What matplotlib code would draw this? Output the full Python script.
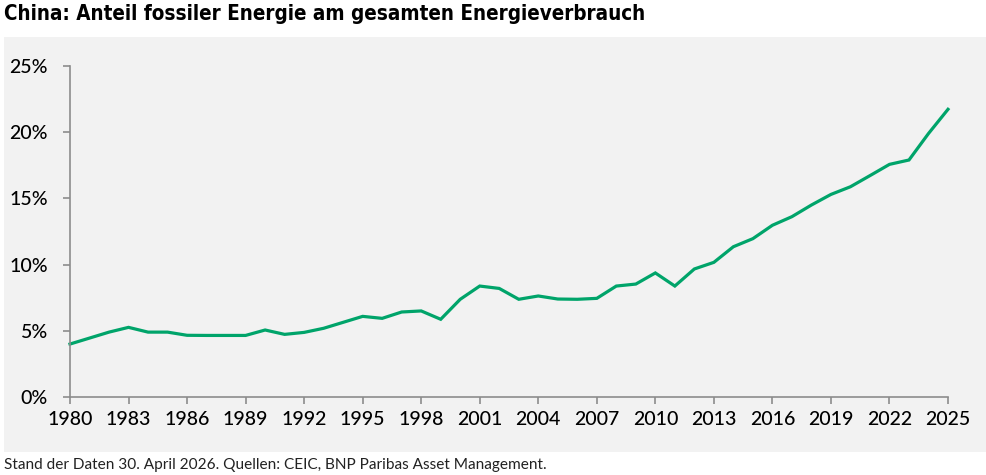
import matplotlib
matplotlib.use("Agg")
import matplotlib.pyplot as plt
from matplotlib.patches import Rectangle
from matplotlib.ticker import FuncFormatter, MultipleLocator

years = list(range(1980, 2026))
share = [4.0, 4.45, 4.9, 5.26, 4.9, 4.9, 4.66, 4.65, 4.65, 4.65,
         5.06, 4.73, 4.88, 5.19, 5.64, 6.09, 5.94, 6.42, 6.5, 5.87,
         7.38, 8.38, 8.2, 7.38, 7.63, 7.4, 7.38, 7.45, 8.38, 8.53,
         9.37, 8.38, 9.67, 10.17, 11.35, 11.96, 12.97, 13.62, 14.5, 15.3,
         15.88, 16.72, 17.57, 17.9, 19.9, 21.73]
xticks = list(range(1980, 2026, 3))
title = "China: Anteil fossiler Energie am gesamten Energieverbrauch"
footer = "Stand der Daten 30. April 2026. Quellen: CEIC, BNP Paribas Asset Management."

W, H = 987, 475
fig = plt.figure(figsize=(W / 100, H / 100), dpi=100)
fig.patch.set_facecolor("white")

# gray panel
fig.patches.append(Rectangle((4 / W, 1 - 452 / H), (987 - 4) / W, (452 - 37) / H,
                             transform=fig.transFigure, facecolor="#f2f2f2",
                             edgecolor="none", zorder=-10))

ax = fig.add_axes([70 / W, 1 - 397 / H, (948 - 70) / W, (397 - 66) / H])
ax.set_zorder(5)
ax.set_facecolor("none")
ax.plot(years, share, color="#00a46a", lw=2.3, solid_joinstyle="miter", clip_on=False)
ax.set_xlim(1980, 2025)
ax.set_ylim(0, 25)
ax.set_xticks(xticks)
ax.yaxis.set_major_locator(MultipleLocator(5))
ax.yaxis.set_major_formatter(FuncFormatter(lambda v, p: f"{int(v)}%"))
for s in ["top", "right"]:
    ax.spines[s].set_visible(False)
for s in ["left", "bottom"]:
    ax.spines[s].set_color("#8c8c8c")
    ax.spines[s].set_linewidth(1.2)
ax.tick_params(axis="both", colors="#8c8c8c", length=5, width=1.2, labelcolor="black",
               labelsize=14)
ax.tick_params(axis="y", pad=11)
ax.tick_params(axis="x", pad=5)
for lab in ax.get_xticklabels() + ax.get_yticklabels():
    lab.set_family(["Lato", "DejaVu Sans"])
    lab.set_fontweight("medium")

fig.text(4 / W, 1 - 14 / H, title, ha="left", va="center", fontsize=14.8,
         fontweight="bold", fontstretch="condensed", family=["DejaVu Sans"])
fig.text(4 / W, 1 - 465 / H, footer, ha="left", va="center", fontsize=11.1,
         family=["Lato", "DejaVu Sans"], color="#222222")

fig.savefig("out.png", dpi=100)
